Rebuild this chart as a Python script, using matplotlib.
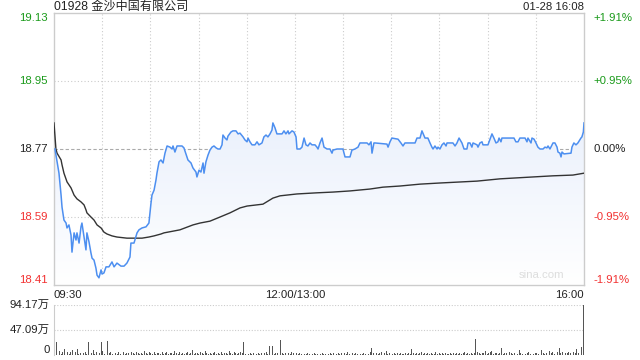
import numpy as np
import matplotlib
matplotlib.use('Agg')
import matplotlib.pyplot as plt
from matplotlib.colors import LinearSegmentedColormap

# chart data (minutes after 09:30, lunch break removed; 330 = 16:00)
prev_close = 18.77
price_t = [0.6, 3.1, 4.4, 5.0, 6.2, 7.5, 8.1, 9.3, 10.6, 11.2, 12.5, 13.7, 14.3, 15.6, 16.8, 17.4,
           18.7, 19.9, 20.5, 21.8, 23.0, 23.7, 24.9, 26.1, 26.8, 28.0, 29.3, 29.9, 31.1, 32.4, 34.2,
           36.1, 37.4, 39.2, 41.7, 43.6, 45.4, 47.3, 47.9, 49.8, 51.7, 52.9, 54.8, 57.3, 59.1, 60.4,
           61.0, 62.3, 63.5, 64.1, 65.4, 66.6, 67.9, 69.1, 70.4, 72.2, 73.5, 74.1, 75.3, 76.6, 79.7,
           80.9, 82.8, 83.4, 85.3, 86.5, 88.4, 89.0, 90.3, 91.5, 92.8, 93.4, 94.6, 95.9, 97.1, 98.4,
           99.6, 100.9, 102.1, 103.4, 104.6, 105.2, 106.5, 107.7, 108.3, 110.2, 111.4, 113.3, 114.6,
           115.8, 117.7, 118.9, 120.2, 120.8, 122.0, 123.3, 125.1, 126.4, 127.6, 129.5, 130.7, 132.0,
           133.2, 134.5, 135.7, 136.3, 137.6, 138.8, 140.7, 142.0, 143.2, 144.4, 145.7, 146.3, 148.2,
           149.4, 150.7, 151.3, 153.2, 154.4, 155.7, 156.9, 158.1, 159.4, 160.6, 162.5, 163.7, 164.4,
           165.6, 166.9, 168.1, 170.0, 171.8, 173.1, 173.7, 176.2, 179.9, 181.2, 184.3, 185.5, 187.4,
           189.3, 190.5, 194.9, 196.1, 197.4, 198.0, 199.2, 199.9, 207.3, 208.0, 209.2, 210.4, 214.2,
           216.0, 217.3, 218.5, 224.8, 226.0, 227.9, 229.1, 229.7, 231.0, 232.8, 234.1, 235.3, 236.0,
           237.2, 238.5, 239.1, 240.3, 241.6, 242.8, 244.1, 244.7, 248.4, 249.7, 250.9, 252.2, 254.0,
           255.3, 257.1, 257.8, 259.0, 260.2, 260.9, 263.4, 264.0, 265.2, 266.5, 267.1, 270.2, 271.5,
           272.7, 273.9, 275.2, 276.4, 277.1, 278.3, 278.9, 286.4, 287.6, 288.9, 290.1, 293.3, 294.5,
           295.1, 297.0, 297.6, 298.9, 300.1, 301.3, 302.6, 304.5, 305.7, 306.9, 307.6, 308.8, 310.1,
           310.7, 311.9, 313.2, 313.8, 315.0, 315.7, 316.3, 317.5, 321.9, 322.5, 323.7, 325.0, 326.2,
           328.1, 328.7, 329.6, 330.0]
price_v = [18.770, 18.706, 18.648, 18.616, 18.582, 18.574, 18.561, 18.569, 18.542, 18.497, 18.548,
           18.529, 18.548, 18.521, 18.564, 18.574, 18.537, 18.503, 18.548, 18.524, 18.495, 18.481,
           18.476, 18.455, 18.436, 18.429, 18.450, 18.439, 18.442, 18.458, 18.458, 18.471, 18.458,
           18.468, 18.460, 18.460, 18.468, 18.484, 18.521, 18.521, 18.548, 18.556, 18.561, 18.564,
           18.574, 18.627, 18.648, 18.661, 18.688, 18.706, 18.736, 18.741, 18.733, 18.759, 18.778,
           18.775, 18.770, 18.778, 18.762, 18.778, 18.778, 18.773, 18.749, 18.741, 18.733, 18.720,
           18.709, 18.696, 18.714, 18.709, 18.733, 18.706, 18.736, 18.754, 18.767, 18.775, 18.778,
           18.773, 18.770, 18.770, 18.781, 18.807, 18.799, 18.794, 18.804, 18.815, 18.818, 18.818,
           18.810, 18.812, 18.802, 18.794, 18.789, 18.799, 18.789, 18.781, 18.781, 18.789, 18.781,
           18.786, 18.802, 18.807, 18.802, 18.810, 18.820, 18.839, 18.826, 18.810, 18.810, 18.810,
           18.818, 18.810, 18.818, 18.810, 18.818, 18.815, 18.802, 18.770, 18.770, 18.775, 18.799,
           18.781, 18.778, 18.786, 18.781, 18.781, 18.775, 18.770, 18.786, 18.799, 18.775, 18.770,
           18.770, 18.759, 18.767, 18.770, 18.770, 18.749, 18.749, 18.767, 18.770, 18.775, 18.786,
           18.786, 18.781, 18.789, 18.759, 18.786, 18.786, 18.783, 18.775, 18.789, 18.799, 18.796,
           18.786, 18.778, 18.786, 18.786, 18.799, 18.799, 18.818, 18.812, 18.799, 18.799, 18.786,
           18.775, 18.770, 18.778, 18.770, 18.775, 18.770, 18.781, 18.786, 18.778, 18.786, 18.786,
           18.778, 18.786, 18.799, 18.786, 18.770, 18.770, 18.786, 18.786, 18.775, 18.786, 18.781,
           18.775, 18.786, 18.789, 18.781, 18.781, 18.796, 18.810, 18.799, 18.786, 18.789, 18.799,
           18.789, 18.799, 18.799, 18.789, 18.789, 18.799, 18.799, 18.789, 18.799, 18.786, 18.799,
           18.796, 18.786, 18.775, 18.770, 18.770, 18.775, 18.773, 18.778, 18.770, 18.781, 18.786,
           18.786, 18.775, 18.762, 18.759, 18.749, 18.762, 18.757, 18.759, 18.775, 18.786, 18.781,
           18.786, 18.799, 18.802, 18.815, 18.839]

avg_t = [0.0, 1.2, 1.9, 4.4, 5.0, 6.2, 8.1, 10.6, 12.5, 14.3, 16.8, 18.7, 19.9, 20.5, 23.0, 24.9,
         26.8, 29.3, 31.1, 33.0, 36.1, 39.2, 45.4, 54.8, 59.1, 62.3, 66.6, 68.5, 78.4, 86.5, 90.9,
         97.1, 103.4, 109.6, 115.8, 120.2, 130.1, 136.3, 140.7, 151.3, 163.7, 173.7, 184.3, 196.7,
         204.8, 215.4, 227.9, 240.3, 263.4, 277.7, 298.2, 310.7, 323.1, 330.0]
avg_v = [18.839, 18.770, 18.759, 18.741, 18.728, 18.706, 18.683, 18.667, 18.648, 18.638, 18.630,
         18.622, 18.609, 18.601, 18.590, 18.582, 18.569, 18.561, 18.550, 18.545, 18.540, 18.537,
         18.534, 18.534, 18.537, 18.540, 18.545, 18.548, 18.556, 18.569, 18.574, 18.579, 18.590,
         18.601, 18.614, 18.619, 18.624, 18.640, 18.646, 18.651, 18.654, 18.656, 18.659, 18.664,
         18.669, 18.672, 18.677, 18.680, 18.685, 18.691, 18.696, 18.699, 18.701, 18.706]

# volume per minute, in 万 shares
volume = [4, 24, 3, 8, 2, 5, 11, 3, 6, 2,
          5, 9, 3, 6, 12, 2, 4, 9, 3, 5,
          2, 24, 6, 3, 9, 2, 5, 26, 3, 24,
          7, 2, 4, 27, 3, 6, 2, 8, 3, 2,
          5, 2, 3, 6, 2, 4, 3, 2, 5, 3,
          2, 6, 3, 2, 4, 2, 7, 3, 2, 5,
          3, 2, 6, 2, 4, 3, 2, 5, 2, 3,
          6, 2, 3, 4, 2, 8, 3, 2, 5, 2,
          3, 2, 4, 6, 2, 3, 9, 2, 4, 3,
          2, 5, 3, 2, 7, 3, 2, 4, 2, 3,
          6, 2, 3, 2, 5, 2, 3, 4, 2, 8,
          3, 2, 5, 3, 2, 4, 6, 3, 24, 2,
          3, 2, 4, 2, 3, 5, 2, 3, 2, 4,
          2, 3, 5, 2, 17, 3, 17, 2, 4, 3,
          5, 28, 3, 2, 4, 2, 3, 2, 5, 3,
          2, 3, 2, 4, 2, 3, 2, 2, 3, 2,
          4, 2, 3, 2, 2, 5, 2, 3, 2, 2,
          3, 2, 4, 2, 3, 2, 2, 4, 2, 3,
          2, 3, 2, 5, 2, 2, 3, 2, 4, 2,
          3, 2, 2, 4, 2, 3, 2, 5, 13, 3,
          2, 4, 2, 3, 5, 26, 3, 8, 2, 3,
          7, 2, 3, 2, 4, 2, 3, 2, 2, 4,
          2, 3, 2, 11, 3, 2, 4, 2, 3, 6,
          2, 3, 2, 4, 2, 3, 2, 2, 5, 2,
          3, 2, 4, 2, 3, 2, 2, 3, 2, 4,
          2, 3, 2, 3, 2, 4, 6, 2, 3, 2,
          3, 2, 4, 30, 5, 3, 2, 4, 3, 8,
          2, 3, 5, 7, 2, 3, 4, 2, 3, 13,
          2, 3, 4, 2, 5, 3, 2, 4, 3, 2,
          9, 3, 2, 4, 2, 3, 5, 2, 3, 2,
          4, 3, 2, 5, 9, 3, 2, 4, 3, 8,
          3, 5, 2, 4, 6, 13, 3, 5, 8, 4,
          3, 6, 4, 15, 5, 3, 11, 4, 6, 15,
          94.17]

price_ticks = [18.41, 18.59, 18.77, 18.95, 19.13]
price_labels = ['18.41', '18.59', '18.77', '18.95', '19.13']
pct_labels = ['-1.91%', '-0.95%', '0.00%', '+0.95%', '+1.91%']
tick_colors = ['#f23030', '#f23030', '#222222', '#1a9a1a', '#1a9a1a']
vol_ticks = [0, 47.09, 94.17]
vol_labels = ['0', '47.09万', '94.17万']
time_ticks = [0, 150, 330]
time_labels = ['09:30', '12:00/13:00', '16:00']
title = '01928 金沙中国有限公司'
stamp = '01-28 16:08'


def main():
    plt.rcParams['font.family'] = ['Liberation Sans', 'Noto Sans CJK SC', 'DejaVu Sans']
    fs = 8.2
    grid_c = '#cccccc'

    fig = plt.figure(figsize=(6.4, 3.6), dpi=100)
    ax = fig.add_axes([54 / 640, 1 - 285 / 360, 530 / 640, 272 / 360])
    axv = fig.add_axes([54 / 640, 1 - 355 / 360, 530 / 640, 50 / 360])

    ymin, ymax = price_ticks[0], price_ticks[-1]
    ax.set_xlim(0, 330)
    ax.set_ylim(ymin, ymax)

    # grid
    for gx in range(30, 330, 30):
        ax.axvline(gx, color=grid_c, lw=0.8, ls=(0, (1, 2)), zorder=0)
    for gy in (price_ticks[1], price_ticks[3]):
        ax.axhline(gy, color=grid_c, lw=0.8, ls=(0, (1, 2)), zorder=0)
    ax.axhline(prev_close, color='#aaaaaa', lw=0.8, ls=(0, (3, 2)), zorder=1)

    # gradient fill under price line
    grad = LinearSegmentedColormap.from_list('g', ['#ffffff', '#dde7fa'])
    img = ax.imshow(np.linspace(0, 1, 256).reshape(-1, 1), cmap=grad, origin='lower',
                    extent=[0, 330, ymin, ymax], aspect='auto', zorder=1)
    poly = ax.fill_between(price_t, price_v, ymin, color='none', lw=0)
    clip = poly.get_paths()[0]
    img.set_clip_path(clip, transform=ax.transData)

    ax.plot(avg_t, avg_v, color='#333333', lw=1.0, zorder=3)
    ax.plot(price_t, price_v, color='#4d8ff0', lw=1.1, zorder=4)

    ax.set_xticks([])
    ax.set_yticks([])
    for s in ax.spines.values():
        s.set_color('#cccccc')
        s.set_linewidth(1.0)

    # price labels
    for i, (v, lab, pl, c) in enumerate(zip(price_ticks, price_labels, pct_labels, tick_colors)):
        va = 'center'
        if i == 0:
            va = 'bottom'
        elif i == len(price_ticks) - 1:
            va = 'top'
        ax.text(-4, v, lab, color=c, fontsize=fs, ha='right', va=va, clip_on=False)
        ax.text(336, v, pl, color=c, fontsize=fs, ha='left', va=va, clip_on=False)

    fig.text(54 / 640, 1 - 7 / 360, title, fontsize=fs + 0.5, ha='left', va='center',
             color='#222222')
    fig.text(584 / 640, 1 - 7 / 360, stamp, fontsize=fs, ha='right', va='center',
             color='#222222')
    ax.text(318, ymin + 0.012, 'sina.com', fontsize=fs, ha='right', va='bottom', color='#dddddd')

    for t, lab in zip(time_ticks, time_labels):
        ha = 'left' if t == 0 else ('right' if t == 330 else 'center')
        ax.text(t, ymin - 0.012, lab, fontsize=fs, ha=ha, va='top', color='#222222')

    # volume
    axv.set_xlim(-0.5, 330.5)
    axv.set_ylim(0, vol_ticks[-1])
    axv.bar(np.arange(len(volume)), volume, width=0.55, color='#555555', lw=0)
    for v in vol_ticks[1:]:
        axv.axhline(v, color=grid_c, lw=0.8, ls=(0, (1, 1.5)), zorder=0)
    for v, lab in zip(vol_ticks, vol_labels):
        axv.text(-3, v, lab, fontsize=fs, ha='right', va='bottom' if v == 0 else 'center',
                 color='#222222')
    axv.set_xticks([])
    axv.set_yticks([])
    for k in ('top', 'right', 'bottom'):
        axv.spines[k].set_visible(False)
    axv.spines['left'].set_color('#cccccc')

    fig.savefig('out.png', dpi=100)
    plt.close(fig)


if __name__ == "__main__":
    main()
